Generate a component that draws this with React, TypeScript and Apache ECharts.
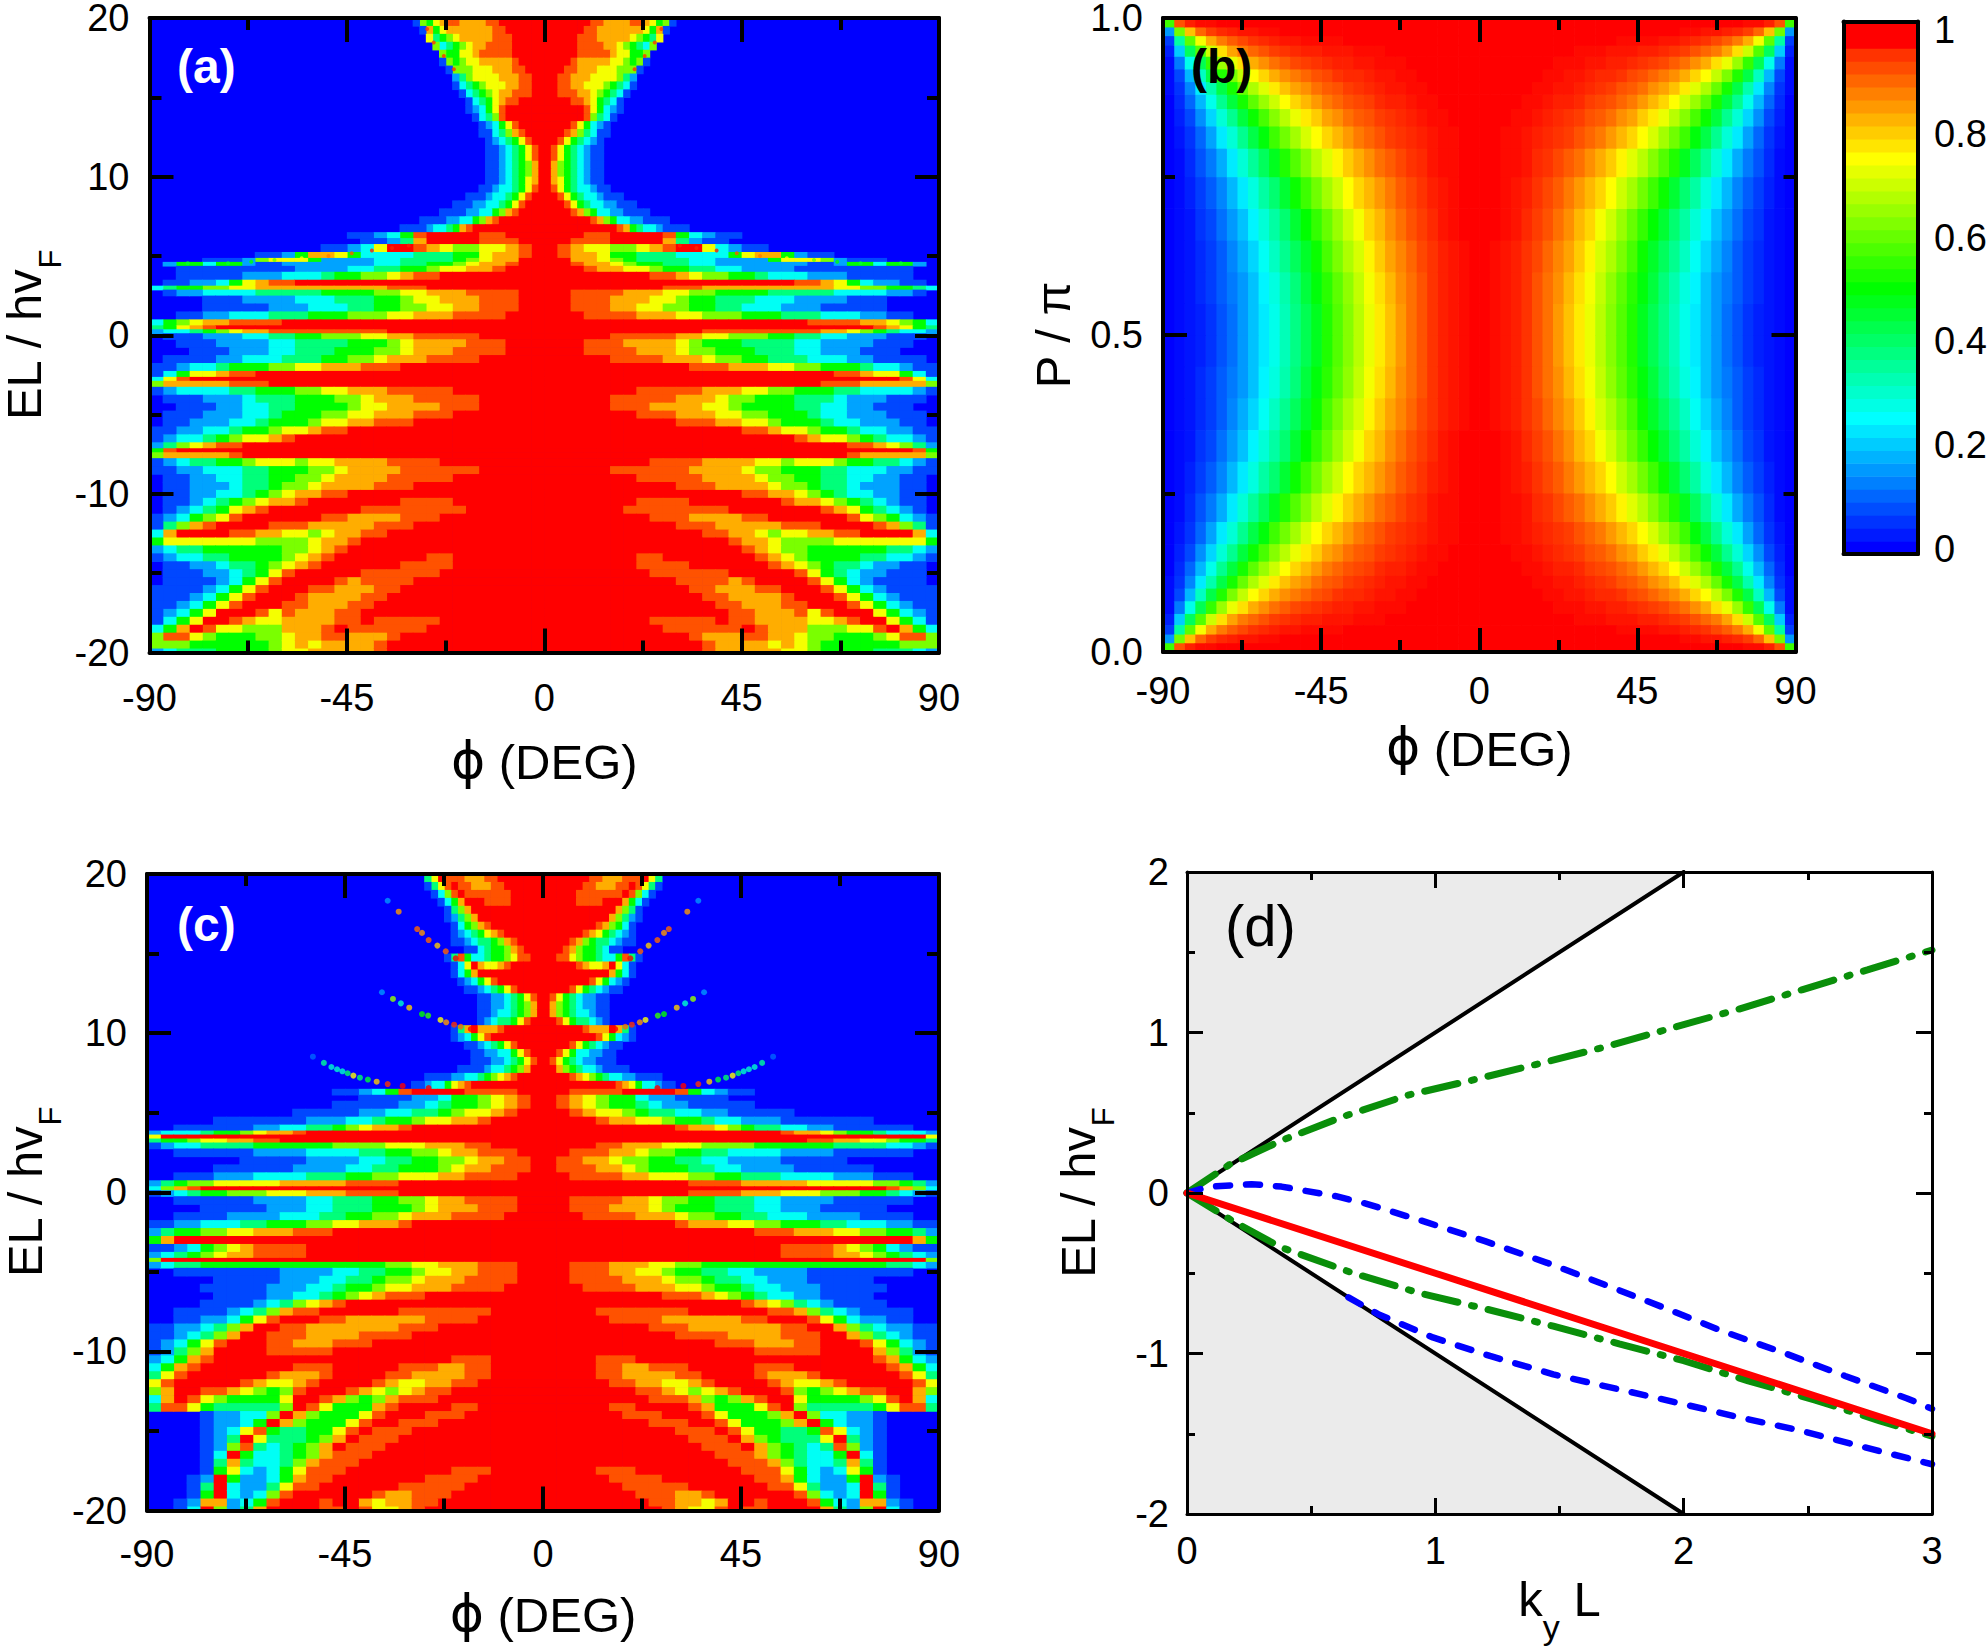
import { useEffect, useRef } from "react";
import * as echarts from "echarts";

const FONT = "Liberation Sans";
const JET = ["#0000ff", "#00ffff", "#00ff00", "#ffff00", "#ff0000"];

// transmission tones used in the tables below: 0..9 then X for full transmission
const toneValues = [0, 0.07, 0.16, 0.26, 0.38, 0.5, 0.62, 0.74, 0.83, 0.92, 1];

const phiColumns = [
  1.5, 4.5, 7.5, 10.5, 13.5, 16.5, 19.5, 22.5, 25.5, 28.5, 31.5, 34.5, 37.5, 40.5, 43.5,
  46.5, 49.5, 52.5, 55.5, 58.5, 61.5, 64.5, 67.5, 70.5, 73.5, 76.5, 79.5, 82.5, 85.5, 88.5,
];
const neckColumns = [
  0.75, 2.25, 3.75, 5.25, 6.75, 8.25, 9.75, 11.25, 12.75, 14.25, 15.75, 17.25,
  18.75, 20.25, 21.75, 23.25, 24.75, 26.25, 27.75, 29.25, 30.75, 32.25, 33.75, 35.25,
];

// panel (a), upper neck, read on the finer neckColumns: [EL/hvF, tones], mirrored for negative phi
const neckA: [number, string][] = [
  [19.75, "XXXXXXX9988889987561"],
  [19.25, "XXXXXX9988888887581"],
  [18.75, "XXXXX99988888765470"],
  [18.25, "XXXXX9999887654360"],
  [17.75, "XXXXX999998775560"],
  [17.25, "XXXX988888776561"],
  [16.75, "XXX998887776661"],
  [16.25, "XX9988877776420"],
  [15.75, "XX9988777654310"],
  [15.25, "XX999887654310"],
  [14.75, "XXXX998754310"],
  [14.25, "XXXXXX9753210"],
  [13.75, "XXXXXX964310"],
  [13.25, "XXXX9753210"],
  [12.75, "XXX98643110"],
  [12.25, "XX97543210"],
  [11.75, "X975432110"],
  [11.25, "X975432110"],
  [10.75, "X865432110"],
  [10.25, "X865432110"],
  [9.75, "X875432110"],
  [9.25, "X9754332110"],
  [8.75, "XX97543321110"],
  [8.25, "XXX975433221110"],
  [7.75, "XXXX9865332211110"],
  [7.25, "XXXXXXX9865332211110"],
  [6.75, "XXXXXXXXXXX985433211110"],
];

// panel (a), the rest on phiColumns; short rows end in blue
const rowsA: [number, string][] = [
  [6.25, "XXX99XXXX953211"],
  [6, "XX999XXXX84211"],
  [5.5, "X987766789XX73211"],
  [5, "X988755444333357885211"],
  [4.75, "XX887654444332222577762111"],
  [4.5, "XX9887655443322222221125535520"],
  [4.25, "XXX988776554433222211111111100"],
  [3.75, "XXXXXXXX9987665543332221111100"],
  [3.25, "XXXXXXXXXXXXXXXXXXX99875322110"],
  [3, "XXXXXXXXX999888888888877665543"],
  [2.75, "XX9999888776655554444433332210"],
  [2.25, "XX9998887765544433322221110000"],
  [1.75, "XX9998877665544333222111110000"],
  [1.25, "XXX999988877666555444333221100"],
  [0.75, "XXXXXXXXXXXXXXXXXXXX9999887653"],
  [0.5, "XXXXXXXXXXXXXXXXXXXXXXXXX98754"],
  [0.25, "XXXXXXXXXXXX999999999887654332"],
  [0, "XXXXX9999988776665544332221110"],
  [-0.5, "XXX999888876555444433222211100"],
  [-1, "XXX999988876655544433222111000"],
  [-1.5, "XXXXX9999888766554443332211110"],
  [-2, "XXXXXXXXXXX9998887766555433211"],
  [-2.5, "XXXXXXXXXXXXXXXXXXXXXX99877531"],
  [-2.75, "XXXXXXXXXXXXXXXXXXXXXXXXXXX973"],
  [-3, "XXXXXXXXXXXXXXXXXXXXX999888886"],
  [-3.5, "XXXXXXX99999888776655544333321"],
  [-4, "XXXXX9999988876655544432221110"],
  [-4.5, "XXXXX9998888776555544332211100"],
  [-5, "XXXXXXX99988877665554332221110"],
  [-5.5, "XXXXXXXXXX99988776555433222110"],
  [-6, "XXXXXXXXXXXXXXX998776554332211"],
  [-6.5, "XXXXXXXXXXXXXXXXXXX98776543321"],
  [-7, "XXXXXXXXXXXXXXXXXXXXXXX9987642"],
  [-7.25, "XXXXXXXXXXXXXXXXXXXXXXXXXXXX95"],
  [-7.5, "XXXXXXXXXXXXXXXXXXXXXXX9888886"],
  [-8, "XXXXXXXX9999888877677765544321"],
  [-8.5, "XXXXX9999998888766555443332211"],
  [-9, "XXXXXXX99999888876655443322110"],
  [-9.5, "XXXXXXXXXX99988887665443222110"],
  [-10, "XXXXXXXXXXXXXXX998876543322110"],
  [-10.5, "XXXXXXX9999XXXXXXX988765432110"],
  [-11, "XXXXXX99999999XXXXXXX987543210"],
  [-11.5, "XXXXXXXX999888899XXXXXX9765321"],
  [-12, "XXXXXXXXXX99988888999XXXX98641"],
  [-12.5, "XXXXXXXXXXXX998876778899XXXX83"],
  [-13, "XXXXXXXXXXXXXX9887666677777775"],
  [-13.5, "XXXXXXXXXXXXXXX987665555554432"],
  [-14, "XXXXXXX99XXXXXXX98765555443321"],
  [-14.5, "XXXXXXX9999XXXXXX9876544322110"],
  [-15, "XXXXXXXX999999XXXXX97543221110"],
  [-15.5, "XXXXXXXXXX999989XXXX9753211110"],
  [-16, "XXXXXXXXXXX9988899XXX975321111"],
  [-16.5, "XXXXXXXXXXXX9988889XXX97532111"],
  [-17, "XXXXXXXXXXXXX9988899XXX9753211"],
  [-17.5, "XXXXXXXXXXXXXX99888979XXX75321"],
  [-18, "XXXXXXXX99999X9988887789XX7531"],
  [-18.5, "XXXXXXXXX999999X9888666779X853"],
  [-19, "XXXXXXXXXXX9888998876655567996"],
  [-19.5, "XXXXXXXXXXXX988887876555555666"],
  [-20, "XXXXXXXXXXXX988888776555544432"],
];

// panel (c), same layout as panel (a)
const neckC: [number, string][] = [
  [19.75, "XXXXXXX99888999X740"],
  [19.25, "XXXXXX9988899X9741"],
  [18.75, "XXXXX9999999X9631"],
  [18.25, "XXXXX9999XXX8531"],
  [17.75, "XXXXXXXXXXX8641"],
  [17.25, "XXXXXXXXXX86421"],
  [16.75, "XXXXXXXX986531"],
  [16.25, "XXXXXX98754321"],
  [15.75, "XXXX9865443211"],
  [15.25, "XXX986554311"],
  [14.75, "XX9976554335941"],
  [14.25, "XXXXX98778X731"],
  [13.75, "XXXXXXXXXX85310"],
  [13.25, "XXXXXXX9753210"],
  [12.75, "XXXX975432110"],
  [12.25, "X975432211"],
  [11.75, "X865432211"],
  [11.25, "X865433211"],
  [10.75, "XX97544321"],
  [10.25, "XXXXXX9888X841"],
  [9.75, "XXXXXXXX9753210"],
  [9.25, "XXXX97543211"],
  [8.75, "XX975332211"],
  [8.25, "X9754322111"],
  [7.75, "XX86543321111"],
  [7.25, "XXXX98765433221111"],
  [6.75, "XXXXXXXXXXX987533211"],
];

const rowsC: [number, string][] = [
  [6.25, "XX9999XXXX953211"],
  [6, "X9876553221111"],
  [5.5, "X987655432211111"],
  [5, "XX98776544332211111"],
  [4.5, "XXXX988776554332221111111"],
  [4, "XXXXXXXXXX98876544332211111100"],
  [3.75, "XXXXXXXXXXXXXXXXXX988765543332"],
  [3.5, "XXXXXXXXXXXXXXXXXXXXXXXXXXXXX7"],
  [3.25, "XXXXXXXXXXXXXXXXXXXX9988776554"],
  [3, "XXXX99888777666655555544443321"],
  [2.5, "XX9998876655443333222211111100"],
  [2, "X9988766554433222211111"],
  [1.5, "X999887655544332222111111"],
  [1, "XX9999887776655444333322211100"],
  [0.5, "XXXXXXXXXXX9999888887777766542"],
  [0.25, "XXXXXXXXXXXXXXXXXXXXXXXXXX9863"],
  [0, "XXXXXXXXXXX9999888777666554321"],
  [-0.5, "XX9999887665544433222211111100"],
  [-1, "XX9998887655544433222111110000"],
  [-1.5, "XXX999988876655443332222111100"],
  [-2, "XXXXXXXXXX98887766555443332211"],
  [-2.5, "XXXXXXXXXXXXXXXX99988877665542"],
  [-3, "XXXXXXXXXXXXXXXXXXXXXXXXXXXX85"],
  [-3.5, "XXXXXXXXXXXXXXXXXX999987653211"],
  [-4, "XXXXXXXXXXXXXXXXXX999988765432"],
  [-4.25, "XXXXXXXXXXXXXXXXXXXXXXXXXXXXX6"],
  [-4.5, "XX9998887766555555555555554432"],
  [-5, "XX9998877655443322221111111100"],
  [-5.5, "XX9999888766544332221111100000"],
  [-6, "XXX999988877655433222111110000"],
  [-6.5, "XXXXXXXXX9998765433221111"],
  [-7, "XXXXXXXXXXXXXXX98764321111"],
  [-7.5, "XXXX9999999XXXXXX9986432111100"],
  [-8, "XXXXX999988888899XXX9753221100"],
  [-8.5, "XXXXXXXX999888888899XX86432211"],
  [-9, "XXXXXXXXXX99998888999XX8643211"],
  [-9.5, "XXXXXXXXXXXXX99988899XXX975321"],
  [-10, "XXXXXXXXXXXXXXXX99999XXXX86421"],
  [-10.5, "XXXX999XXXXXXXXXXXXXXXXXX98532"],
  [-11, "XXXX9988999XXXXX999XXXXXXX9853"],
  [-11.5, "XXXX99888899XXXX98889XXXXXX974"],
  [-12, "XXXXX99887789XXXX987789XXXXX97"],
  [-12.5, "XXXXXXX99876789XXX96567899XX86"],
  [-13, "XXXXXXXX999865689XX75555679X83"],
  [-13.5, "XXXXX99XXXX9855579X64444457994"],
  [-14, "XXXXXX999XXX9755568X6332210000"],
  [-14.5, "XXXXXXXX999XX9755568X532210000"],
  [-15, "XXXXXXXXXX999X9755445973210000"],
  [-15.5, "XXXXXXXXXXX999X8654447X4210000"],
  [-16, "XXXXXXXXXXXX999X86543496210000"],
  [-16.5, "XXXXXXXXXXXXX9998654335X310000"],
  [-17, "XXXXXXXXXXXXXX9998643348410000"],
  [-17.5, "XXXX999XXXXXXXX999753237510000"],
  [-18, "XXXXX9999XXXXXXX99853225X21000"],
  [-18.5, "XXXXXX99999XXXXXX9974223X41000"],
  [-19, "XXXXXXX999889XXXXXX96323X51000"],
  [-19.5, "XXXXXXXX998878XX9XXX9532882100"],
  [-20, "XXXXXXXXX98779X99XXXX8426X3100"],
];

// thin resonance traces: [phi, EL/hvF, T]
const tracesA = [
  [26.7, 19.3, 0.95], [25.2, 18.46, 0.95], [22.9, 17.6, 0.95], [20.6, 16.77, 0.95],
  [30.9, 5.65, 0.97], [34.7, 5.5, 0.97], [39.3, 5.34, 0.97], [43.9, 5.17, 0.92], [49.2, 5.0, 0.88],
  [55.3, 4.85, 0.75], [61.5, 4.75, 0.6], [66.8, 4.64, 0.5], [72.1, 4.54, 0.45], [81.3, 4.54, 0.45],
];
const tracesC = [
  [19.85, 14.7, 1], [22.1, 15.14, 0.9], [24, 15.5, 0.8], [26, 15.85, 0.9], [27.5, 16.3, 0.85],
  [28.6, 16.54, 0.9], [32.8, 17.63, 0.85], [35.3, 18.32, 0.15],
  [16.4, 10.26, 1], [18.7, 10.4, 0.9], [20.2, 10.53, 0.95], [22, 10.68, 0.85], [23.3, 10.83, 0.75],
  [26.1, 11.1, 0.55], [27.5, 11.2, 0.5], [30.4, 11.6, 0.8], [32.3, 11.87, 0.3], [34.1, 12.15, 0.65],
  [36.6, 12.57, 0.15],
  [26, 6.55, 1], [31.9, 6.68, 1], [35.3, 6.8, 0.95], [37.8, 6.95, 0.8], [39.8, 7.08, 0.45],
  [41.6, 7.2, 0.4], [43.1, 7.33, 0.75], [44.4, 7.48, 0.4], [45.6, 7.6, 0.3], [46.8, 7.73, 0.3],
  [48.1, 7.87, 0.3], [49.8, 8.13, 0.35], [52.3, 8.52, 0.1],
];

// panel (b): P/pi rows below the middle, mirrored above 0.5, in percent for phi = 1.5 .. 88.5
const rowsB: [number, number[]][] = [
  [0.475, [100, 99, 98, 97, 95, 92, 89, 85, 81, 77, 73, 68, 63, 58, 53, 47, 42, 37, 32, 27, 23, 19, 15, 11, 8, 5, 3, 2, 1, 0]],
  [0.425, [100, 99, 98, 97, 95, 92, 89, 86, 82, 78, 74, 69, 64, 59, 54, 49, 44, 38, 33, 28, 24, 19, 15, 12, 9, 6, 4, 2, 1, 0]],
  [0.375, [100, 99, 98, 97, 95, 93, 90, 87, 84, 80, 76, 71, 67, 62, 57, 51, 46, 41, 36, 31, 26, 21, 17, 13, 9, 6, 4, 2, 1, 0]],
  [0.325, [100, 100, 99, 98, 96, 94, 92, 89, 86, 82, 79, 74, 70, 65, 60, 55, 50, 45, 39, 34, 29, 24, 19, 15, 11, 7, 5, 2, 1, 0]],
  [0.275, [100, 100, 99, 98, 97, 95, 93, 91, 88, 85, 82, 79, 75, 70, 66, 61, 56, 51, 45, 39, 34, 28, 23, 18, 13, 9, 6, 3, 1, 0]],
  [0.225, [100, 100, 99, 99, 98, 96, 95, 93, 91, 89, 86, 83, 80, 76, 72, 68, 63, 58, 53, 47, 41, 35, 29, 23, 17, 12, 8, 4, 1, 0]],
  [0.185, [100, 100, 99, 99, 98, 97, 96, 95, 94, 92, 90, 88, 85, 82, 79, 75, 71, 66, 61, 56, 49, 43, 36, 29, 23, 16, 10, 5, 2, 0]],
  [0.155, [100, 100, 100, 99, 99, 98, 97, 96, 95, 94, 92, 91, 89, 86, 84, 80, 77, 73, 68, 63, 57, 51, 44, 36, 29, 21, 14, 7, 3, 0]],
  [0.13, [100, 100, 100, 100, 99, 99, 98, 97, 97, 96, 94, 93, 92, 90, 88, 85, 82, 79, 75, 70, 65, 59, 52, 44, 36, 27, 18, 10, 4, 0]],
  [0.11, [100, 100, 100, 100, 100, 99, 99, 98, 98, 97, 96, 95, 94, 92, 91, 89, 86, 84, 81, 77, 72, 67, 60, 52, 43, 33, 23, 13, 5, 1]],
  [0.09, [100, 100, 100, 100, 100, 100, 99, 99, 98, 98, 97, 96, 96, 95, 93, 92, 90, 88, 86, 83, 79, 75, 69, 62, 53, 43, 31, 18, 7, 1]],
  [0.07, [100, 100, 100, 100, 100, 100, 100, 99, 99, 99, 98, 98, 97, 97, 96, 95, 94, 93, 91, 89, 86, 83, 78, 73, 65, 55, 42, 27, 12, 1]],
  [0.05, [100, 100, 100, 100, 100, 100, 100, 100, 100, 99, 99, 99, 98, 98, 98, 97, 97, 96, 95, 94, 92, 90, 88, 84, 78, 70, 58, 41, 20, 3]],
  [0.035, [100, 100, 100, 100, 100, 100, 100, 100, 100, 100, 100, 100, 100, 99, 99, 99, 99, 98, 98, 97, 96, 95, 93, 91, 88, 83, 74, 59, 34, 6]],
  [0.02, [100, 100, 100, 100, 100, 100, 100, 100, 100, 100, 100, 100, 100, 100, 100, 100, 100, 100, 100, 99, 99, 98, 98, 97, 96, 94, 90, 81, 61, 15]],
  [0.0075, [100, 100, 100, 100, 100, 100, 100, 100, 100, 100, 100, 100, 100, 100, 100, 100, 100, 100, 100, 100, 100, 100, 100, 100, 100, 99, 99, 97, 92, 56]],
];

// colour bar bands, from the bottom
const colorBarEdges = [
  -0.0096, 0.0154, 0.0404, 0.0654, 0.0904, 0.1154, 0.1404, 0.1654, 0.1904, 0.2154, 0.2404,
  0.2654, 0.2904, 0.3154, 0.3404, 0.3654, 0.3904, 0.4154, 0.4404, 0.4654, 0.4904, 0.5154,
  0.5404, 0.5654, 0.5904, 0.6154, 0.6404, 0.6654, 0.6904, 0.7154, 0.7404, 0.7654, 0.7904,
  0.8154, 0.8404, 0.8654, 0.8904, 0.9154, 0.9404, 0.9654, 1.0164,
];
const colorBarTones = [
  0, 0.025, 0.05, 0.075, 0.1, 0.125, 0.15, 0.175, 0.2, 0.225, 0.25, 0.275, 0.3, 0.325, 0.35,
  0.375, 0.4, 0.425, 0.45, 0.475, 0.5, 0.525, 0.55, 0.575, 0.6, 0.625, 0.65, 0.675, 0.7, 0.725,
  0.75, 0.775, 0.8, 0.825, 0.85, 0.875, 0.9, 0.925, 0.95, 1,
];
const colorBarTicks = [0, 0.2, 0.4, 0.6, 0.8, 1];

// panel (d)
const lightCone = [[0, 2], [2, 2], [0, 0], [2, -2], [0, -2]];
const coneUpper = [[0, 0], [2, 2]];
const coneLower = [[0, 0], [2, -2]];
const redLine = [[0, 0], [1, -0.5], [2, -1], [3, -1.5]];
const greenUpper = [
  [0, 0], [0.17, 0.176], [0.385, 0.33], [0.63, 0.477], [0.89, 0.61], [1.14, 0.7], [1.416, 0.805],
  [1.69, 0.913], [1.95, 1.027], [2.21, 1.14], [2.476, 1.266], [2.74, 1.39], [3, 1.514],
];
const greenLower = [
  [0, 0], [0.19, -0.18], [0.38, -0.34], [0.67, -0.5], [0.94, -0.625], [1.21, -0.725], [1.475, -0.83],
  [1.74, -0.94], [2, -1.045], [2.26, -1.17], [2.53, -1.29], [2.79, -1.42], [3, -1.515],
];
const blueUpper = [
  [0, 0], [0.09, 0.04], [0.26, 0.055], [0.38, 0.04], [0.6, -0.02], [0.72, -0.066], [0.96, -0.18],
  [1.2, -0.3], [1.45, -0.435], [1.68, -0.57], [1.92, -0.714], [2.155, -0.86], [2.41, -1], [2.65, -1.14],
  [2.9, -1.28], [3, -1.345],
];
const blueLower = [
  [0.65, -0.65], [0.77, -0.755], [0.99, -0.9], [1.22, -1.015], [1.475, -1.13], [1.73, -1.22],
  [1.97, -1.305], [2.23, -1.4], [2.47, -1.48], [2.73, -1.585], [3, -1.69],
];

const rowBounds = (centers: number[], top: number, bottom: number) =>
  centers.map((c, i) => [
    i === centers.length - 1 ? bottom : (c + centers[i + 1]) / 2,
    i === 0 ? top : (c + centers[i - 1]) / 2,
  ]);

// cells of one table; blue (tone 0) is left to the grid background
function toneCells(rows: [number, string][], columns: number[], halfWidth: number, top: number, bottom: number) {
  const bounds = rowBounds(rows.map((r) => r[0]), top, bottom);
  const cells: number[][] = [];
  rows.forEach(([energy, tones], r) => {
    columns.forEach((phi, c) => {
      const ch = tones[c] ?? "0";
      if (ch === "0") return;
      const t = toneValues[ch === "X" ? 10 : Number(ch)];
      cells.push([phi, energy, t, phi - halfWidth, phi + halfWidth, bounds[r][0], bounds[r][1]]);
      cells.push([-phi, energy, t, -phi - halfWidth, -phi + halfWidth, bounds[r][0], bounds[r][1]]);
    });
  });
  return cells;
}

function cellsB() {
  const bounds = rowBounds(rowsB.map((r) => r[0]), 0.5, 0);
  const cells: number[][] = [];
  rowsB.forEach(([p, values], r) => {
    const [low, high] = bounds[r];
    phiColumns.forEach((phi, c) => {
      const t = values[c] / 100;
      [[p, low, high], [1 - p, 1 - high, 1 - low]].forEach(([y, y0, y1]) => {
        cells.push([phi, y, t, phi - 1.5, phi + 1.5, y0, y1]);
        cells.push([-phi, y, t, -phi - 1.5, -phi + 1.5, y0, y1]);
      });
    });
  });
  return cells;
}

const mirrored = (points: number[][]) => points.flatMap(([p, e, t]) => [[p, e, t], [-p, e, t]]);

const colorBarCells = colorBarTones.map((t, i) => [0.5, colorBarEdges[i], t, 0, 1, colorBarEdges[i], colorBarEdges[i + 1]]);

function renderCell(_: any, api: any) {
  const a = api.coord([api.value(3), api.value(6)]);
  const b = api.coord([api.value(4), api.value(5)]);
  return {
    type: "rect",
    shape: { x: a[0], y: a[1], width: b[0] - a[0] + 0.7, height: b[1] - a[1] + 0.7 },
    style: { fill: api.visual("color") },
  };
}

function renderCone(params: any, api: any) {
  if (params.dataIndex !== 0) return null;
  return {
    type: "polygon",
    shape: { points: lightCone.map((p) => api.coord(p)) },
    style: { fill: "#ebebeb" },
  };
}

// the subscripts sit at the foot of a taller line, which drops them below the baseline
const nameStyle = {
  fontFamily: FONT,
  fontSize: 49,
  color: "#000",
  rich: {
    base: { fontFamily: FONT, fontSize: 49, lineHeight: 44, color: "#000", verticalAlign: "top" },
    phi: { fontFamily: "DejaVu Sans", fontSize: 52, lineHeight: 44, color: "#000" },
    sub: { fontFamily: FONT, fontSize: 31, lineHeight: 66, color: "#000", verticalAlign: "bottom" },
    suby: { fontFamily: FONT, fontSize: 34, lineHeight: 70, color: "#000", verticalAlign: "bottom" },
  },
};

// one grid with its four framing axes, ticks pointing inwards on every side
function frame(o: {
  grid: number; xMin: number; xMax: number; xStep: number; yMin: number; yMax: number; yStep: number;
  xName: string; yName: string; xGap: number; yGap: number; xMargin: number; yMargin: number;
  line: number; major: number; minor: number; yFormat?: (v: number) => string;
}) {
  const side = (extra: any) => ({
    gridIndex: o.grid,
    type: "value",
    z: 10,
    splitLine: { show: false },
    axisLine: { onZero: false, lineStyle: { color: "#000", width: o.line } },
    axisTick: { inside: true, length: o.major, lineStyle: { color: "#000", width: o.line } },
    minorTick: { show: true, splitNumber: 2, length: o.minor, lineStyle: { color: "#000", width: o.line } },
    ...extra,
  });
  const label = (margin: number, formatter?: any) => ({
    fontFamily: FONT, fontSize: 38, lineHeight: 30, color: "#000", margin, formatter, showMinLabel: true, showMaxLabel: true,
  });
  const x = { min: o.xMin, max: o.xMax, interval: o.xStep };
  const y = { min: o.yMin, max: o.yMax, interval: o.yStep };
  return {
    xAxis: [
      side({ ...x, position: "bottom", name: o.xName, nameLocation: "middle", nameGap: o.xGap, nameTextStyle: nameStyle, axisLabel: label(o.xMargin) }),
      side({ ...x, position: "top", axisLabel: { show: false } }),
    ],
    yAxis: [
      side({ ...y, position: "left", name: o.yName, nameLocation: "middle", nameGap: o.yGap, nameTextStyle: nameStyle, axisLabel: label(o.yMargin, o.yFormat) }),
      side({ ...y, position: "right", axisLabel: { show: false } }),
    ],
  };
}

const cellSeries = (axis: number, data: number[][]) => ({
  type: "custom",
  xAxisIndex: axis,
  yAxisIndex: axis,
  renderItem: renderCell,
  clip: true,
  silent: true,
  z: 1,
  encode: { x: 0, y: 1 },
  data,
});

const traceSeries = (axis: number, data: number[][], size: number) => ({
  type: "scatter",
  xAxisIndex: axis,
  yAxisIndex: axis,
  symbolSize: size,
  silent: true,
  z: 3,
  data,
});

const lineSeries = (data: number[][], color: string, width: number, type: any = "solid") => ({
  type: "line",
  xAxisIndex: 8,
  yAxisIndex: 8,
  showSymbol: false,
  silent: true,
  z: 3,
  data,
  lineStyle: { color, width, type, cap: "round" },
});

const panelLabel = (text: string, x: number, y: number, fill: string, fontWeight: string, fontSize: number) => ({
  type: "text",
  x,
  y,
  z: 100,
  style: { text, fill, fontWeight, fontSize, fontFamily: FONT, verticalAlign: "middle" },
});

export default function App() {
  const chartRef = useRef<HTMLDivElement>(null);

  useEffect(() => {
    const chart = echarts.init(chartRef.current, null, { renderer: "svg" });

    const phiName = "{phi|ϕ}{base| (DEG)}";
    const energyName = "{base|EL / hv}{sub|F}";
    const a = frame({ grid: 0, xMin: -90, xMax: 90, xStep: 45, yMin: -20, yMax: 20, yStep: 10, xName: phiName, yName: energyName, xGap: 85, yGap: 84, xMargin: 30, yMargin: 20, line: 4, major: 24, minor: 12 });
    const b = frame({ grid: 1, xMin: -90, xMax: 90, xStep: 45, yMin: 0, yMax: 1, yStep: 0.5, xName: phiName, yName: "{base|P / π}", xGap: 72, yGap: 91, xMargin: 24, yMargin: 20, line: 4, major: 24, minor: 12, yFormat: (v) => v.toFixed(1) });
    const c = frame({ grid: 2, xMin: -90, xMax: 90, xStep: 45, yMin: -20, yMax: 20, yStep: 10, xName: phiName, yName: energyName, xGap: 80, yGap: 81, xMargin: 28, yMargin: 20, line: 4, major: 24, minor: 12 });
    const d = frame({ grid: 4, xMin: 0, xMax: 3, xStep: 1, yMin: -2, yMax: 2, yStep: 1, xName: "{base|k}{suby|y}{base| L}", yName: energyName, xGap: 60, yGap: 68, xMargin: 22, yMargin: 18, line: 3, major: 16, minor: 8 });

    const barBorder = { axisLine: { onZero: false, lineStyle: { color: "#000", width: 4 } }, axisTick: { show: false }, splitLine: { show: false }, z: 10 };
    const barX = (position: string) => ({ gridIndex: 3, type: "value", min: 0, max: 1, position, axisLabel: { show: false }, ...barBorder });
    const barY = (position: string, axisLabel: any) => ({ gridIndex: 3, type: "value", min: colorBarEdges[0], max: colorBarEdges[colorBarEdges.length - 1], position, axisLabel, ...barBorder });

    const fixedBox = { outerBoundsMode: "none" };
    const blueGround = { show: true, backgroundColor: "#0000ff", borderWidth: 0 };

    const option = {
      animation: false,
      backgroundColor: "#fff",
      textStyle: { fontFamily: FONT },
      grid: [
        { left: 149.5, top: 18, width: 789.5, height: 634.5, ...fixedBox, ...blueGround },
        { left: 1163, top: 18, width: 632.5, height: 634, ...fixedBox },
        { left: 147, top: 874, width: 792, height: 636.5, ...fixedBox, ...blueGround },
        { left: 1843.5, top: 21.5, width: 74.5, height: 532.5, ...fixedBox },
        { left: 1187, top: 872, width: 745, height: 642, ...fixedBox },
      ],
      xAxis: [...a.xAxis, ...b.xAxis, ...c.xAxis, barX("bottom"), barX("top"), ...d.xAxis],
      yAxis: [
        ...a.yAxis, ...b.yAxis, ...c.yAxis,
        barY("left", { show: false }),
        barY("right", { show: true, customValues: colorBarTicks, fontFamily: FONT, fontSize: 38, color: "#000", margin: 16, formatter: (v: number) => String(v) }),
        ...d.yAxis,
      ],
      visualMap: {
        show: false,
        type: "continuous",
        min: 0,
        max: 1,
        dimension: 2,
        seriesIndex: [0, 1, 2, 3, 4, 5],
        inRange: { color: JET },
      },
      series: [
        cellSeries(0, [...toneCells(neckA, neckColumns, 0.75, 20, 6.5), ...toneCells(rowsA, phiColumns, 1.5, 6.5, -20)]),
        traceSeries(0, mirrored(tracesA), 4),
        cellSeries(2, cellsB()),
        cellSeries(4, [...toneCells(neckC, neckColumns, 0.75, 20, 6.5), ...toneCells(rowsC, phiColumns, 1.5, 6.5, -20)]),
        traceSeries(4, mirrored(tracesC), 6),
        cellSeries(6, colorBarCells),
        { type: "custom", xAxisIndex: 8, yAxisIndex: 8, renderItem: renderCone, clip: true, silent: true, z: 1, encode: { x: 0, y: 1 }, data: lightCone },
        lineSeries(coneUpper, "#000", 4),
        lineSeries(coneLower, "#000", 4),
        lineSeries(greenUpper, "#0a8f0a", 7, [34, 14, 3, 14]),
        lineSeries(greenLower, "#0a8f0a", 7, [34, 14, 3, 14]),
        lineSeries(blueUpper, "#0000ff", 6.5, [14, 16]),
        lineSeries(blueLower, "#0000ff", 6.5, [14, 16]),
        lineSeries(redLine, "#ff0000", 7),
      ],
      graphic: [
        panelLabel("(a)", 177, 66, "#fff", "bold", 48),
        panelLabel("(b)", 1191, 66, "#000", "bold", 48),
        panelLabel("(c)", 177, 924, "#fff", "bold", 48),
        panelLabel("(d)", 1225, 925, "#000", "normal", 58),
      ],
    };

    chart.setOption(option as any);

    return () => {
      chart.dispose();
    };
  }, []);

  return <div ref={chartRef} style={{ position: "absolute", left: 0, top: 0, width: 1987, height: 1646 }} />;
}
